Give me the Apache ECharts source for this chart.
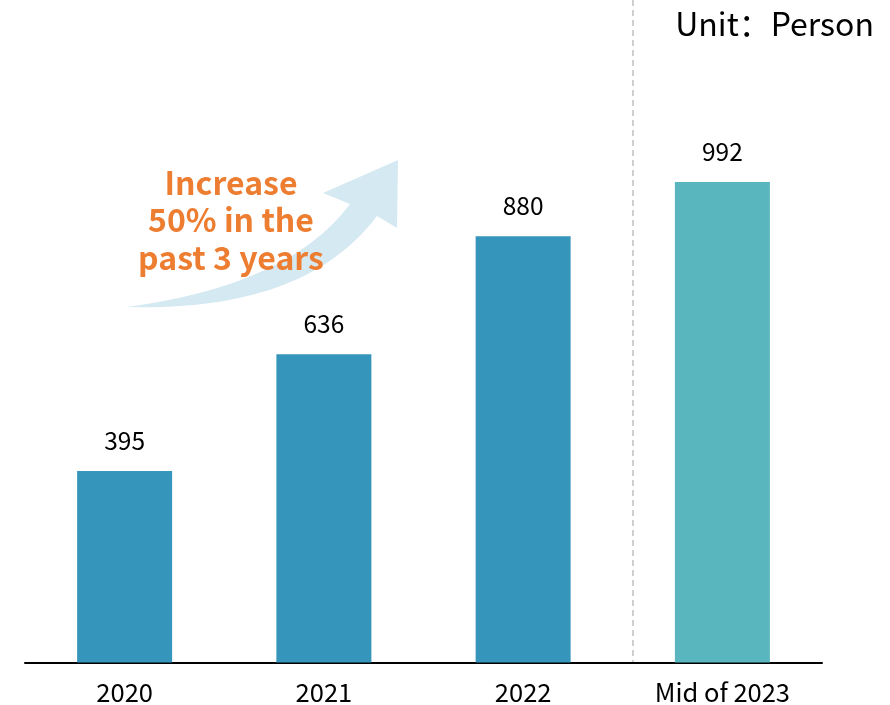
<!DOCTYPE html>
<html>
<head>
<meta charset="utf-8">
<script src="https://cdn.jsdelivr.net/npm/echarts@6/dist/echarts.min.js"></script>
<style>
  html, body { margin: 0; padding: 0; background: #fff; }
  #chart { width: 890px; height: 705px; }
</style>
</head>
<body>
<div id="chart"></div>
<script>
// 数据
var categories = ['2020', '2021', '2022', 'Mid of 2023'];
var values = [395, 636, 880, 992];
var barColors = ['#3595BB', '#3595BB', '#3595BB', '#59B6BF'];
var noteLines = ['Increase', '50% in the', 'past 3 years'];
var unitText = 'Unit：Person';

var FONT = '"Noto Sans CJK SC", "Noto Sans", sans-serif';

/**
 * 二次贝塞尔曲线取点
 */
function quad(p0, c, p1, n) {
    var pts = [];
    for (var i = 0; i <= n; i++) {
        var t = i / n, u = 1 - t;
        pts.push([
            u * u * p0[0] + 2 * u * t * c[0] + t * t * p1[0],
            u * u * p0[1] + 2 * u * t * c[1] + t * t * p1[1]
        ]);
    }
    return pts;
}

// 箭头轮廓
var arrowPoints = quad([127, 307], [305, 312], [377, 216], 30)
    .concat([[397, 228], [398, 160], [323, 193]])
    .concat(quad([350, 204], [290, 285], [127, 307], 30));

var chart = echarts.init(document.getElementById('chart'));

var option = {
    animation: false,
    grid: {
        left: 25,
        right: 68,
        top: 178,
        bottom: 42
    },
    xAxis: {
        type: 'category',
        data: categories,
        axisTick: { show: false },
        axisLine: { lineStyle: { color: '#000', width: 2 } },
        axisLabel: {
            color: '#000',
            fontSize: 25.5,
            fontFamily: FONT,
            margin: 17
        }
    },
    yAxis: {
        type: 'value',
        min: 0,
        max: 1000,
        show: false
    },
    series: [{
        type: 'bar',
        barWidth: 95,
        data: values.map(function (v, i) {
            return { value: v, itemStyle: { color: barColors[i] } };
        }),
        label: {
            show: true,
            position: 'top',
            distance: 18,
            color: '#000',
            fontSize: 24.5,
            fontFamily: FONT
        }
    }],
    graphic: [
        // 分隔虚线
        {
            type: 'line',
            shape: { x1: 633, y1: 0, x2: 633, y2: 662 },
            style: { stroke: '#C0C0C0', lineWidth: 1.5, lineDash: [6, 4] },
            z: 1
        },
        // 上升箭头
        {
            type: 'polygon',
            shape: { points: arrowPoints },
            style: { fill: '#D5E9F2' },
            z: 1
        },
        {
            type: 'text',
            x: 231,
            y: 220,
            style: {
                text: noteLines.join('\n'),
                fill: '#ED7D31',
                font: 'bold 32px ' + FONT,
                lineHeight: 37.5,
                align: 'center',
                verticalAlign: 'middle'
            },
            z: 2
        },
        {
            type: 'text',
            x: 874,
            y: 24,
            style: {
                text: unitText,
                fill: '#000',
                font: '32px ' + FONT,
                align: 'right',
                verticalAlign: 'middle'
            }
        }
    ]
};

chart.setOption(option);
</script>
</body>
</html>
